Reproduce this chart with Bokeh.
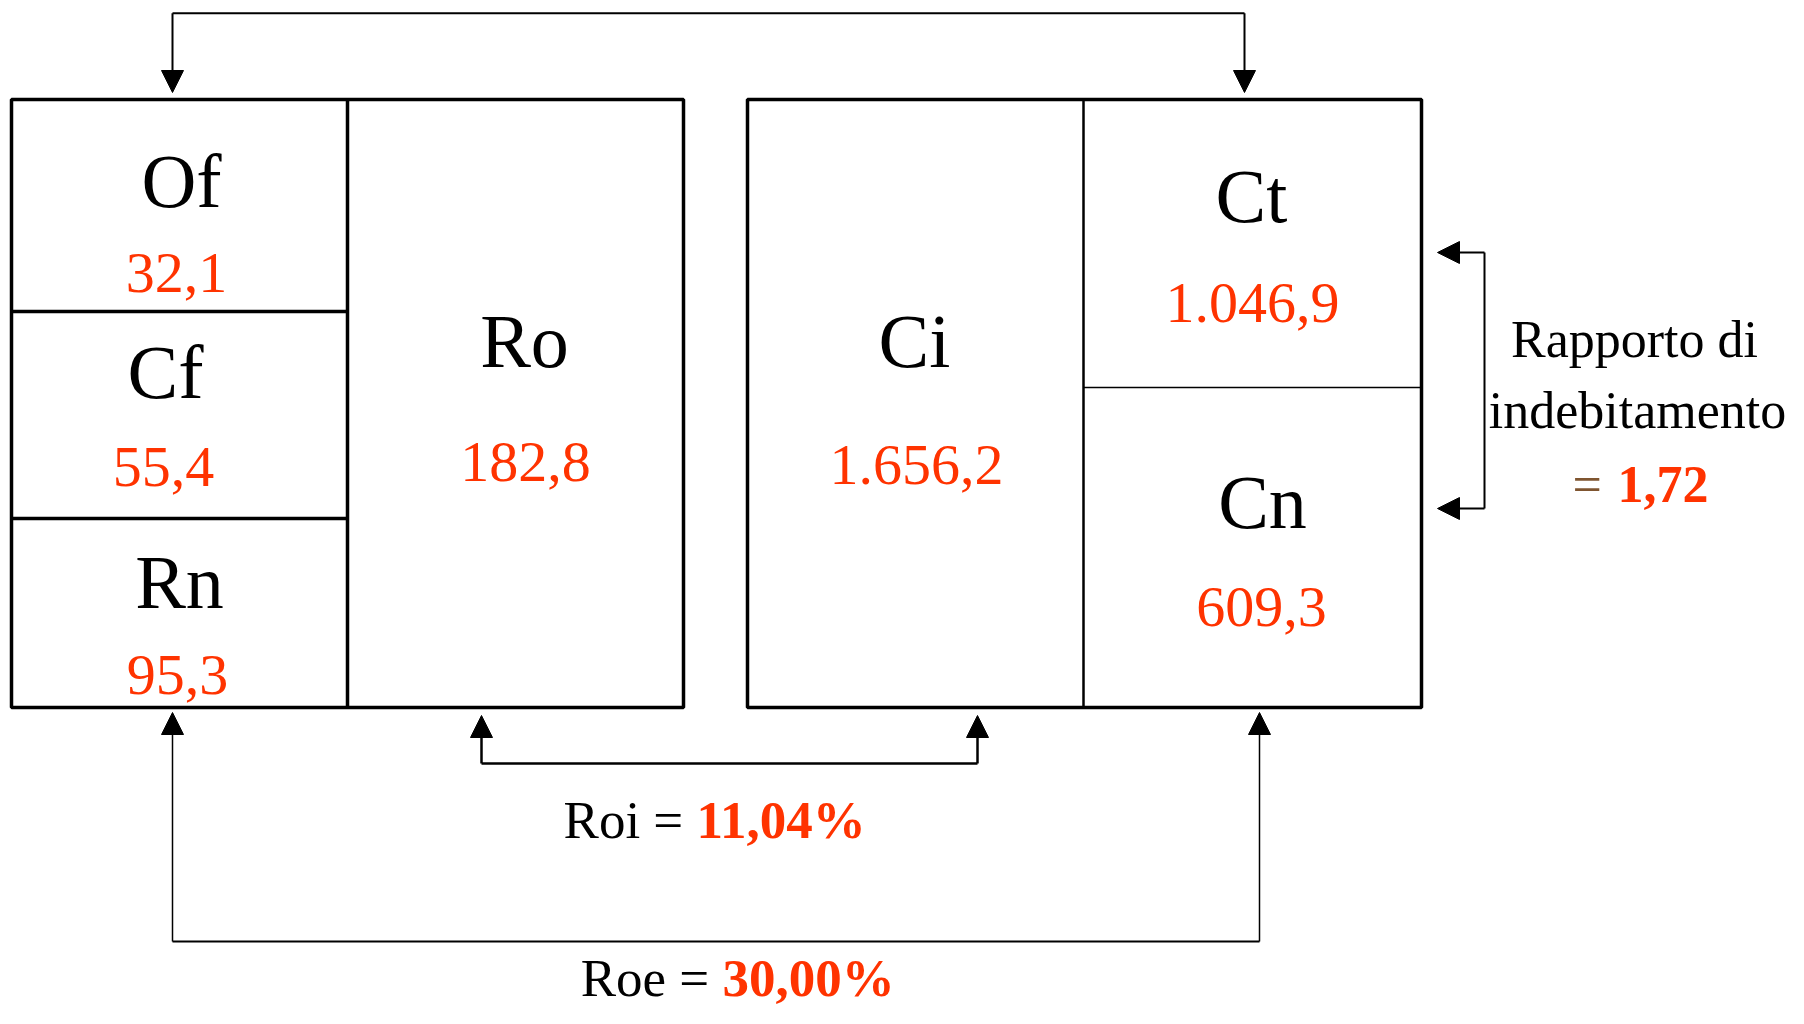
from bokeh.plotting import figure
from bokeh.models import Range1d, ColumnDataSource, Arrow, NormalHead
from bokeh.core.properties import value
from bokeh.embed import file_html
from bokeh.resources import INLINE

# ---------------- data ----------------
box_labels = ["Of", "Cf", "Rn", "Ro", "Ci", "Ct", "Cn"]
box_values = [32.1, 55.4, 95.3, 182.8, 1656.2, 1046.9, 609.3]
roi_pct = 11.04
roe_pct = 30.00
debt_ratio = 1.72


def it_num(v, d=1):
    s = f"{v:,.{d}f}"
    return s.replace(",", "X").replace(".", ",").replace("X", ".")


# ---------------- layout (pixel coordinates) ----------------
W, H = 1788, 1008
K = 0.35        # baseline correction (fraction of font size)


def base(y, size):
    """Shift wanted baseline so the drawn baseline lands at y."""
    return y - K * size


LAB = 76
VAL = 58
TXT = 53
SIDE = 52

lab_x = [181, 165, 179, 524, 914, 1251, 1262]
lab_y = [207, 398, 608, 367, 367, 222, 528]
val_x = [176, 163, 177, 525, 916, 1252, 1261]
val_y = [293, 487, 695, 482, 485, 323, 627]

RED = "#FF3300"
FONT = value("Liberation Serif")

p = figure(width=W, height=H,
           x_range=Range1d(0, W), y_range=Range1d(H, 0),
           output_backend="svg", toolbar_location=None,
           x_axis_location=None, y_axis_location=None,
           min_border=0, tools="")
p.grid.visible = False
p.outline_line_color = None
p.background_fill_color = "white"
p.border_fill_color = "white"

# boxes
p.quad(left=[11, 747], right=[683, 1421], top=[99, 99], bottom=[707, 707],
       fill_color=None, line_color="black", line_width=3.5)
# dividers
p.segment(x0=[347, 11, 11], y0=[99, 311, 518], x1=[347, 347, 347], y1=[707, 311, 518],
          line_color="black", line_width=3.5)
p.segment(x0=[1083], y0=[99], x1=[1083], y1=[707], line_color="black", line_width=2.5)
p.segment(x0=[1083], y0=[387], x1=[1421], y1=[387], line_color="black", line_width=1.5)

# connector lines
p.segment(x0=[172], y0=[12.7], x1=[1244], y1=[12.7], line_color="black", line_width=2)
p.segment(x0=[481], y0=[763], x1=[977], y1=[763], line_color="black", line_width=2.5)
p.segment(x0=[172], y0=[941], x1=[1259], y1=[941], line_color="black", line_width=2)
p.segment(x0=[1484], y0=[252], x1=[1484], y1=[508], line_color="black", line_width=2)

arrows = [
    (172, 12.7, 172, 92, 2),
    (1244, 12.7, 1244, 92, 2),
    (481, 763, 481, 715, 2.5),
    (977, 763, 977, 715, 2.5),
    (172, 941, 172, 712, 1.5),
    (1259, 941, 1259, 712, 1.5),
    (1484, 252, 1437, 252, 2),
    (1484, 508, 1437, 508, 2),
]
for xs, ys, xe, ye, lw in arrows:
    p.add_layout(Arrow(x_start=xs, y_start=ys, x_end=xe, y_end=ye,
                       line_color="black", line_width=lw,
                       end=NormalHead(size=22, fill_color="black", line_color="black",
                                      line_width=1)))

# box labels and values
lab_src = ColumnDataSource(dict(x=lab_x, y=[base(y, LAB) for y in lab_y], t=box_labels))
val_src = ColumnDataSource(dict(x=val_x, y=[base(y, VAL) for y in val_y],
                                t=[it_num(v) for v in box_values]))
p.text(x="x", y="y", text="t", source=lab_src, text_font=FONT, text_font_size=f"{LAB}px",
       text_color="black", text_align="center", text_baseline="alphabetic")
p.text(x="x", y="y", text="t", source=val_src, text_font=FONT, text_font_size=f"{VAL}px",
       text_color=RED, text_align="center", text_baseline="alphabetic")

# Roi / Roe
ry = [base(838, TXT), base(996, TXT)]
p.text(x=[696, 722], y=ry, text=["Roi = ", "Roe = "], text_font=FONT,
       text_font_size=f"{TXT}px", text_color="black", text_align="right",
       text_baseline="alphabetic")
p.text(x=[696, 722], y=ry,
       text=[it_num(roi_pct, 2) + "%", it_num(roe_pct, 2) + "%"], text_font=FONT,
       text_font_size=f"{TXT}px", text_font_style="bold", text_color=RED,
       text_align="left", text_baseline="alphabetic")

# Rapporto di indebitamento
p.text(x=[1634, 1637], y=[base(357, SIDE), base(428, SIDE)],
       text=["Rapporto di", "indebitamento"],
       text_font=FONT, text_font_size=f"{SIDE}px", text_color="black",
       text_align="center", text_baseline="alphabetic")
p.text(x=[1572], y=[base(502, SIDE)], text=["="], text_font=FONT,
       text_font_size=f"{SIDE}px",
       text_color="#7F5530", text_align="left", text_baseline="alphabetic")
p.text(x=[1617], y=[base(502, SIDE)], text=[it_num(debt_ratio, 2)], text_font=FONT,
       text_font_size=f"{SIDE}px", text_font_style="bold", text_color=RED,
       text_align="left", text_baseline="alphabetic")

open("out.html", "w").write(file_html(p, INLINE))
